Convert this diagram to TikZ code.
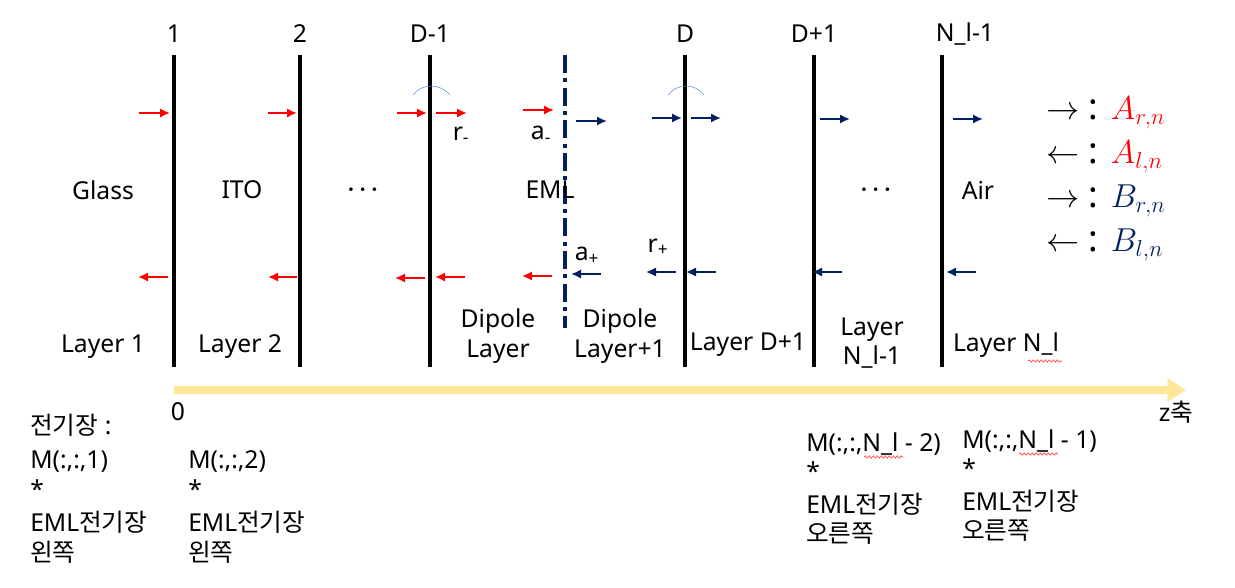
\documentclass[tikz,border=0pt]{standalone}
\usepackage{amsmath}
\usepackage{fontspec}
\setmainfont{Noto Sans}
\newfontfamily\krfont{Noto Sans CJK KR}
\usetikzlibrary{arrows.meta,decorations.pathmorphing}
\definecolor{navy}{HTML}{002060}
\definecolor{arcblue}{HTML}{5B8BD8}
\definecolor{axisyellow}{HTML}{FFE699}
\tikzset{
  wall/.style={line width=3pt},
  redarr/.style={red,line width=1.6pt,-{Latex[length=7.5pt,width=7pt]}},
  bluearr/.style={navy,line width=1.6pt,-{Latex[length=7.5pt,width=7pt]}},
  squiggle/.style={red!80,line width=0.5pt,decorate,decoration={snake,amplitude=0.8pt,segment length=3pt}},
  txt/.style={inner sep=0pt,font=\fontsize{18.5}{22}\selectfont},
  legend/.style={inner sep=0pt,anchor=west,font=\fontsize{27}{30}\selectfont}
}

\begin{document}
\begin{tikzpicture}[x=0.75pt,y=-0.75pt]
	\useasboundingbox (0,0) rectangle (1235,588);
	% interfaces
	\foreach \x/\t [count=\i] in {174/1,300/2,430/D-1,685/D,814/D+1}{
		\draw [wall] (\x,55) -- (\x,367);
		\node [txt] (top\i) at (\x,34) {\t};
	}
	\draw [wall] (942,55) -- (942,367);
	\node [txt] (top6) at (965,34) {N\_l-1};
	% dipole plane
	\draw [navy,line width=3pt,dash pattern=on 13.5pt off 4pt on 3pt off 4pt] (565,55) -- (565,328);
	% arcs
	\draw [arcblue,thin] (413,95) .. controls (422,83) and (440,83) .. (450,95);
	\draw [arcblue,thin] (668,95) .. controls (677,83) and (695,83) .. (704,95);
	% A waves
	\draw [redarr] (139,113) -- (170,113);
	\draw [redarr] (268,113) -- (297,113);
	\draw [redarr] (397,113) -- (427,113);
	\draw [redarr] (436,113) -- (467,113);
	\draw [redarr] (523,110) -- (554,110);
	\draw [redarr] (168,277) -- (138,277);
	\draw [redarr] (297,277) -- (268,277);
	\draw [redarr] (425,278) -- (395,278);
	\draw [redarr] (465,277) -- (435,277);
	\draw [redarr] (552,276) -- (522,276);
	% B waves
	\draw [bluearr] (576,121) -- (607,121);
	\draw [bluearr] (652,118) -- (682,118);
	\draw [bluearr] (691,118) -- (721,118);
	\draw [bluearr] (820,119) -- (850,119);
	\draw [bluearr] (953,119) -- (983,119);
	\draw [bluearr] (601,274) -- (571,274);
	\draw [bluearr] (676,272) -- (646,272);
	\draw [bluearr] (716,272) -- (686,272);
	\draw [bluearr] (842,272) -- (812,272);
	\draw [bluearr] (976,272) -- (946,272);
	% coefficients
	\node [txt] (rm) at (461,135) {r\textsubscript{-}};
	\node [txt] (am) at (541,135) {a\textsubscript{-}};
	\node [txt] (ap) at (587,256) {a\textsubscript{+}};
	\node [txt] (rp) at (658,247) {r\textsubscript{+}};
	% media
	\node [txt] (glass) at (103,190) {Glass};
	\node [txt] (ito) at (242,190) {ITO};
	\node [txt] (dots1) at (365,190) {$\boldsymbol{\cdots}$};
	\node [txt] (eml) at (550,190) {EML};
	\node [txt] (dots2) at (878,190) {$\boldsymbol{\cdots}$};
	\node [txt] (air) at (978,190) {Air};
	% layer names
	\node [txt] (ly1) at (103,347) {Layer 1};
	\node [txt] (ly2) at (240,347) {Layer 2};
	\node [txt,align=center] (lyd) at (498,336) {Dipole\\Layer};
	\node [txt,align=center] (lyd1) at (620,336) {Dipole\\Layer+1};
	\node [txt] (lyd2) at (748,345) {Layer D+1};
	\node [txt,align=center] (lyn1) at (872,343) {Layer\\N\_l-1};
	\node [txt] (lyn) at (1006,345) {Layer N\_l};
	\draw [squiggle] (1028,361) -- (1062,361);
	% z axis
	\draw [axisyellow,line width=5.5pt,-{Triangle[length=14pt,width=17pt]}] (174,390) -- (1186,390);
	\node [txt] (zero) at (178,412) {0};
	\node [txt] (zax) at (1176,412) {z{\krfont 축}};
	% field blocks
	\node [txt,anchor=west] (fa0) at (30,425) {{\krfont 전기장} :};
	\foreach \x/\y/\m/\s [count=\i] in {30/462/1/{\krfont 왼쪽},188/462/2/{\krfont 왼쪽},806/444/N\_l - 2/{\krfont 오른쪽},962/441/N\_l - 1/{\krfont 오른쪽}}{
		\node [txt,anchor=west] (fm\i) at (\x,\y) {M(:,:,\m)};
		\node [txt,anchor=west] (fs\i) at (\x,\y+27) {*};
		\node [txt,anchor=west] (fe\i) at (\x,\y+60) {EML{\krfont 전기장}};
		\node [txt,anchor=west] (fl\i) at (\x,\y+90) {\s};
	}
	\draw [squiggle] (864,457) -- (903,457);
	\draw [squiggle] (1019,454) -- (1058,454);
	% legend
	\node [legend] (lg1) at (1046,113) {$\rightarrow$ \textbf{:} \textcolor{red}{$A_{r,n}$}};
	\node [legend] (lg2) at (1046,157) {$\leftarrow$ \textbf{:} \textcolor{red}{$A_{l,n}$}};
	\node [legend] (lg3) at (1046,201) {$\rightarrow$ \textbf{:} \textcolor{navy}{$B_{r,n}$}};
	\node [legend] (lg4) at (1046,245) {$\leftarrow$ \textbf{:} \textcolor{navy}{$B_{l,n}$}};
\end{tikzpicture}
\end{document}
